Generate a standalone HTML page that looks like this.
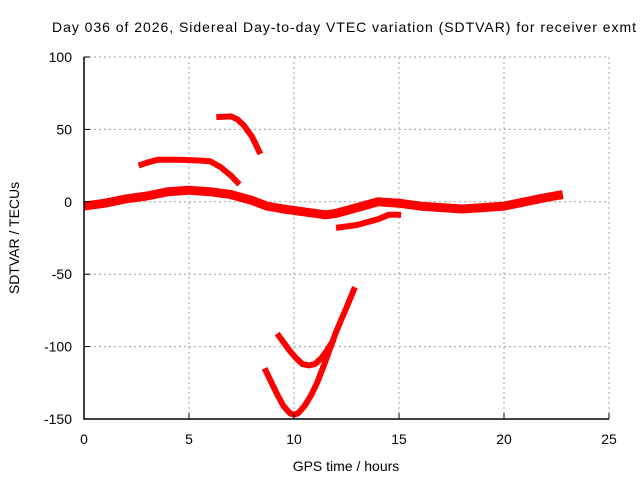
<!DOCTYPE html>
<html><head><meta charset="utf-8"><style>
body{margin:0;background:#fff}
svg{display:block;font-family:"Liberation Sans",sans-serif}
</style></head><body>
<svg width="640" height="480" viewBox="0 0 640 480">
<rect width="640" height="480" fill="#fff"/>
<g id="grid"></g>
<g id="series"></g>
<g id="axes"></g>
<text x="52" y="32" font-size="14" textLength="584">Day 036 of 2026, Sidereal Day-to-day VTEC variation (SDTVAR) for receiver exmt</text>
<text x="346" y="471" font-size="14" text-anchor="middle">GPS time / hours</text>
<text transform="translate(19,238) rotate(-90)" font-size="14" text-anchor="middle">SDTVAR / TECUs</text>
</svg>
<script>
const xTicks=[0,5,10,15,20,25];
const yTicks=[100,50,0,-50,-100,-150];
const mainT=[0,1,2,3,4,5,6,7,8,8.7,9.5,10.5,11.5,12,13,14,15,16,17,18,19,20,21,22,22.8];
const mainV=[-3,-1,2,4,7,8,7,5,1,-3,-5,-7,-9,-8,-4,0,-1,-3,-4,-5,-4,-3,0,3,5];
const lowT=[12,13,14,14.5,15.1];
const lowV=[-18,-16,-12,-9,-9];
const arcT=[2.6,3,3.5,4.5,5.5,6,6.5,7,7.4];
const arcV=[25,27,29,29,28.5,28,24,18,12];
const topT=[6.3,7,7.3,7.6,8,8.4];
const topV=[58.5,59,57,53,45,33];
const vT=[8.6,8.9,9.2,9.5,9.8,10,10.2,10.5,10.8,11.1,11.5,12,12.5,12.9];
const vV=[-115,-124,-133,-141,-146,-147,-146,-141,-134,-125,-110,-90,-73,-59];
const v2T=[9.2,9.5,9.8,10.1,10.4,10.7,11,11.3,11.6,11.9];
const v2V=[-91,-97,-103,-108,-112,-113,-112,-108,-102,-95];
const X=h=>84+21*h;
const Y=v=>57+(100-v)*1.448;
const NS="http://www.w3.org/2000/svg";
function mk(tag,attrs,parent){const e=document.createElementNS(NS,tag);for(const k in attrs)e.setAttribute(k,attrs[k]);parent.appendChild(e);return e;}
const grid=document.getElementById('grid'),axes=document.getElementById('axes'),ser=document.getElementById('series');
xTicks.forEach(t=>{
 if(t>0){const l=mk('line',{x1:X(t),x2:X(t),y1:Y(-150),y2:Y(100),stroke:'#a0a0a0','stroke-dasharray':'2,3'},grid);
 
 }
 const tk=mk('line',{x1:X(t),x2:X(t),y1:Y(-150),y2:Y(-150)-6,stroke:'#000'},axes);
 
 
 const tx=mk('text',{x:X(t),y:444,'font-size':14,'text-anchor':'middle'},axes);tx.textContent=t;
 
 
});
yTicks.forEach(t=>{
 if(t>-150){const l=mk('line',{x1:X(0),x2:X(25),y1:Y(t),y2:Y(t),stroke:'#a0a0a0','stroke-dasharray':'2,3'},grid);
 
 }
 const tk=mk('line',{x1:X(0),x2:X(0)+6,y1:Y(t),y2:Y(t),stroke:'#000'},axes);
 
 
 const tx=mk('text',{x:72,y:Y(t)+5,'font-size':14,'text-anchor':'end'},axes);tx.textContent=t;
 
 
});
const ax=mk('path',{d:`M${X(0)},${Y(100)}V${Y(-150)}H${X(25)}`,fill:'none',stroke:'#000','stroke-width':1.5},axes);


function series(ts,vs,w,name){
 const d=ts.map((t,i)=>(i?'L':'M')+X(t).toFixed(1)+','+Y(vs[i]).toFixed(1)).join('');
 const p=mk('path',{d:d,fill:'none',stroke:'#f00','stroke-width':w,'stroke-linejoin':'round','stroke-linecap':'butt'},ser);
 
 
}
series(mainT,mainV,9,'series-main-band');
series(lowT,lowV,6,'series-lower-branch');
series(arcT,arcV,6,'series-upper-arc');
series(topT,topV,6,'series-top-arc');
series(vT,vV,6,'series-deep-dip');
series(v2T,v2V,6,'series-second-dip');
</script>
</body></html>
